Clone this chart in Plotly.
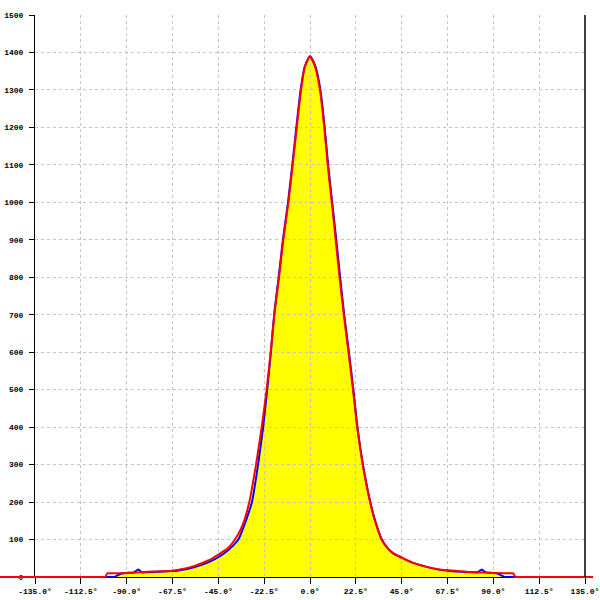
import plotly.graph_objects as go

# ---- data (degrees, counts) ----
red_x = [-155, -101, -100.5, -99.5, -99, -95, -90, -85, -80, -75, -67.5, -63.8, -57, -50, -45, -40.5,
         -36.8, -33, -29.8, -26.5, -23.7, -21.3, -19.3, -17.5, -15.2, -13.1, -10.6, -8.5, -6.5,
         -4.4, -2.5, 0, 2.5, 4.9, 7.0, 8.7, 10.7, 12.6, 14.5, 16.6, 18.9, 21.1, 23.2, 25.9, 29.5,
         31.9, 35.2, 38, 40.9, 45, 47.5, 50, 57.3, 63.8, 67.5, 75, 80, 85, 90, 95, 99.3, 99.8,
         100.8, 101.3, 139]
red_y = [0, 0, 0, 10, 10, 10, 11, 12, 14, 15, 17, 20, 29, 44, 60, 76,
         100, 140, 200, 300, 400, 500, 600, 700, 800, 900, 1000, 1100, 1200,
         1300, 1362, 1390, 1362, 1300, 1200, 1100, 1000, 900, 800, 700, 600, 500, 400, 300, 200,
         150, 100, 78, 63, 52, 45, 39, 27, 20, 18, 15, 13, 12, 11, 10, 10, 10,
         0, 0, 0]

blue_x = [-100.5, -96.5, -96, -94, -92, -90, -86.5, -84.3, -82.5, -80, -75, -67.5, -63.8, -57, -50,
          -45, -40.5, -35.2, -31.5, -28.5, -25.5, -23.0, -21.0, -19.2, -17.6, -15.4, -13.3, -10.8,
          -8.7, -6.7, -4.6, -2.6, 0, 2.7, 5.1, 7.2, 8.9, 10.9, 12.9, 14.8, 16.8, 19.1, 21.3, 23.3,
          26, 29.6, 32.0, 35.2, 38, 40.9, 45, 47.5, 50, 57.3, 63.8, 67.5, 75, 80, 82.5, 84.3, 86,
          90, 92, 95.5, 96, 100.3]
blue_y = [0, 0, 0, 6, 10, 11, 12, 20, 12, 13, 14, 16, 18, 26, 39,
          53, 70, 100, 150, 200, 300, 400, 500, 600, 700, 800, 900, 1000,
          1100, 1200, 1300, 1362, 1390, 1362, 1300, 1200, 1100, 1000, 900, 800, 700, 600, 500, 400,
          300, 200, 150, 100, 78, 63, 52, 45, 39, 27, 19, 17, 14, 13, 13, 20, 13,
          11, 9, 0, 0, 0]

x_ticks = [-135, -112.5, -90, -67.5, -45, -22.5, 0, 22.5, 45, 67.5, 90, 112.5, 135]
x_ticktext = [f"{v:.1f}°" for v in x_ticks]
y_ticks = list(range(0, 1501, 100))
y_ticktext = [str(v) for v in y_ticks]

# ---- geometry ----
W = H = 600
box_l, box_r, box_t, box_b = 35, 585, 15, 577  # pixel box of axes
xmin, xmax = -135, 135
ymin, ymax = 0, 1500
sx = (box_r - box_l) / (xmax - xmin)
sy = (box_b - box_t) / (ymax - ymin)
full_xrange = [xmin - box_l / sx, xmax + (W - box_r) / sx]
full_yrange = [ymin - (H - box_b) / sy, ymax + box_t / sy]
dom_x = [box_l / W, box_r / W]
dom_y = [(H - box_b) / H, (H - box_t) / H]

fig = go.Figure()

spl = dict(shape="spline", smoothing=0.6)
# subplot 1: yellow fill
fig.add_trace(go.Scatter(x=blue_x, y=blue_y, mode="lines", fill="tozeroy",
                         fillcolor="#ffff00", line=dict(width=0, **spl),
                         hoverinfo="skip", showlegend=False, xaxis="x", yaxis="y"))
# subplot 2: grid + axes (empty trace)
fig.add_trace(go.Scatter(x=[], y=[], showlegend=False, xaxis="x2", yaxis="y2"))
# subplot 3: lines over full canvas
fig.add_trace(go.Scatter(x=blue_x, y=blue_y, mode="lines",
                         line=dict(color="#0000ff", width=2, **spl),
                         showlegend=False, xaxis="x3", yaxis="y3"))
fig.add_trace(go.Scatter(x=red_x, y=red_y, mode="lines",
                         line=dict(color="#ff0000", width=2, **spl),
                         showlegend=False, xaxis="x3", yaxis="y3"))

hidden = dict(showgrid=False, zeroline=False, showline=False, showticklabels=False, ticks="",
              automargin=False)
tickfont = dict(family="Liberation Mono", size=8, color="black", weight="bold")
grid = dict(showgrid=True, gridcolor="#c4c4c4", griddash="3px,3px", gridwidth=1)

fig.update_layout(
    width=W, height=H, margin=dict(l=0, r=0, t=0, b=0, autoexpand=False),
    paper_bgcolor="white", plot_bgcolor="rgba(0,0,0,0)",
    xaxis=dict(domain=dom_x, range=[xmin, xmax], anchor="y", **hidden),
    yaxis=dict(domain=dom_y, range=[ymin, ymax], anchor="x", **hidden),
    xaxis2=dict(domain=dom_x, range=[xmin, xmax], anchor="y2", tickvals=x_ticks,
                ticktext=x_ticktext, ticks="outside", ticklen=6, tickcolor="black",
                showline=True, linecolor="black", linewidth=1, zeroline=False,
                tickfont=tickfont, automargin=False, **grid),
    yaxis2=dict(domain=dom_y, range=[ymin, ymax], anchor="x2", tickvals=y_ticks,
                ticktext=y_ticktext, ticks="outside", ticklen=5, tickcolor="black",
                showline=True, linecolor="black", linewidth=1, zeroline=False,
                tickfont=tickfont, ticklabelstandoff=4, automargin=False, **grid),
    xaxis3=dict(domain=[0, 1], range=full_xrange, anchor="y3", **hidden),
    yaxis3=dict(domain=[0, 1], range=full_yrange, anchor="x3", **hidden),
)

# right border line
fig.add_shape(type="line", xref="x2 domain", yref="y2 domain", x0=1, x1=1, y0=0, y1=1,
              line=dict(color="black", width=1.5))

fig.write_html("out.html", config={"displayModeBar": False},
               post_script="document.body.style.margin='0';")
